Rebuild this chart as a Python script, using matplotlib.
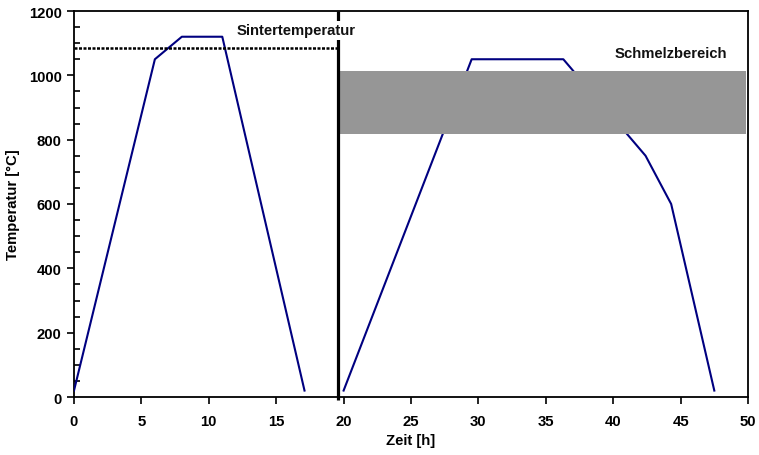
import matplotlib
matplotlib.use("Agg")
import matplotlib.pyplot as plt
from matplotlib.ticker import MultipleLocator

plt.rcParams['font.family'] = ['Liberation Sans', 'DejaVu Sans']
plt.rcParams['font.weight'] = 'bold'

# Temperature profiles (time in h, temperature in °C)
sinter_time = [0, 6, 8, 11, 17.1]
sinter_temp = [20, 1050, 1120, 1120, 20]
melt_time = [20, 29.5, 36.3, 42.4, 44.3, 47.5]
melt_temp = [20, 1050, 1050, 750, 600, 20]

sinter_level = 1084          # sintering temperature
melt_range = (818, 1013)     # melting range
divider_time = 19.6          # separates the two runs

xticks = [0, 5, 10, 15, 20, 25, 30, 35, 40, 45, 50]
yticks = [0, 200, 400, 600, 800, 1000, 1200]

fs = 10.7
fig = plt.figure(figsize=(7.59, 4.56), dpi=100)
ax = fig.add_axes([74/759, 1 - 398/456, 674/759, 386/456])

ax.plot(sinter_time, sinter_temp, color='#000080', lw=1.5, zorder=3)
ax.plot(melt_time, melt_temp, color='#000080', lw=1.5, zorder=3)

ax.fill_between([divider_time, 49.83], melt_range[0], melt_range[1],
                color='#969696', lw=0, zorder=4)

ax.plot([0, divider_time - 0.1], [sinter_level, sinter_level], color='black',
        lw=1.8, linestyle=(0, (1.2, 0.6)), zorder=5)

ax.plot([divider_time, divider_time], [-8, 1200], color='black', lw=2.3,
        zorder=6, clip_on=False, solid_capstyle='butt')

ax.text(16.51, 1127, 'Sintertemperatur', ha='center', va='baseline',
        fontsize=fs, fontweight='bold', color='#111111', zorder=7,
        bbox=dict(fc='white', ec='none', boxstyle='square,pad=0.2'))
ax.text(44.25, 1056, 'Schmelzbereich', ha='center', va='baseline',
        fontsize=fs, fontweight='bold', color='#111111', zorder=7)

ax.set_xlim(0, 50)
ax.set_ylim(0, 1200)
ax.set_xticks(xticks)
ax.set_yticks(yticks)
ax.yaxis.set_minor_locator(MultipleLocator(50))
ax.tick_params(axis='both', which='major', direction='out', length=5,
               width=1.2, labelsize=fs, colors='black')
ax.tick_params(axis='x', which='major', pad=7)
ax.tick_params(axis='y', which='major', pad=4)
ax.tick_params(axis='y', which='minor', direction='in', length=4, width=1.2)
for lab in ax.get_xticklabels() + ax.get_yticklabels():
    lab.set_fontweight('bold')

for side in ['left', 'bottom', 'top', 'right']:
    ax.spines[side].set_linewidth(1.3)
    ax.spines[side].set_color('black')

ax.set_xlabel('Zeit [h]', fontsize=fs, fontweight='bold', labelpad=4)
ax.set_ylabel('Temperatur [°C]', fontsize=fs, fontweight='bold', labelpad=6)

fig.savefig('out.png', dpi=100, facecolor='white')
